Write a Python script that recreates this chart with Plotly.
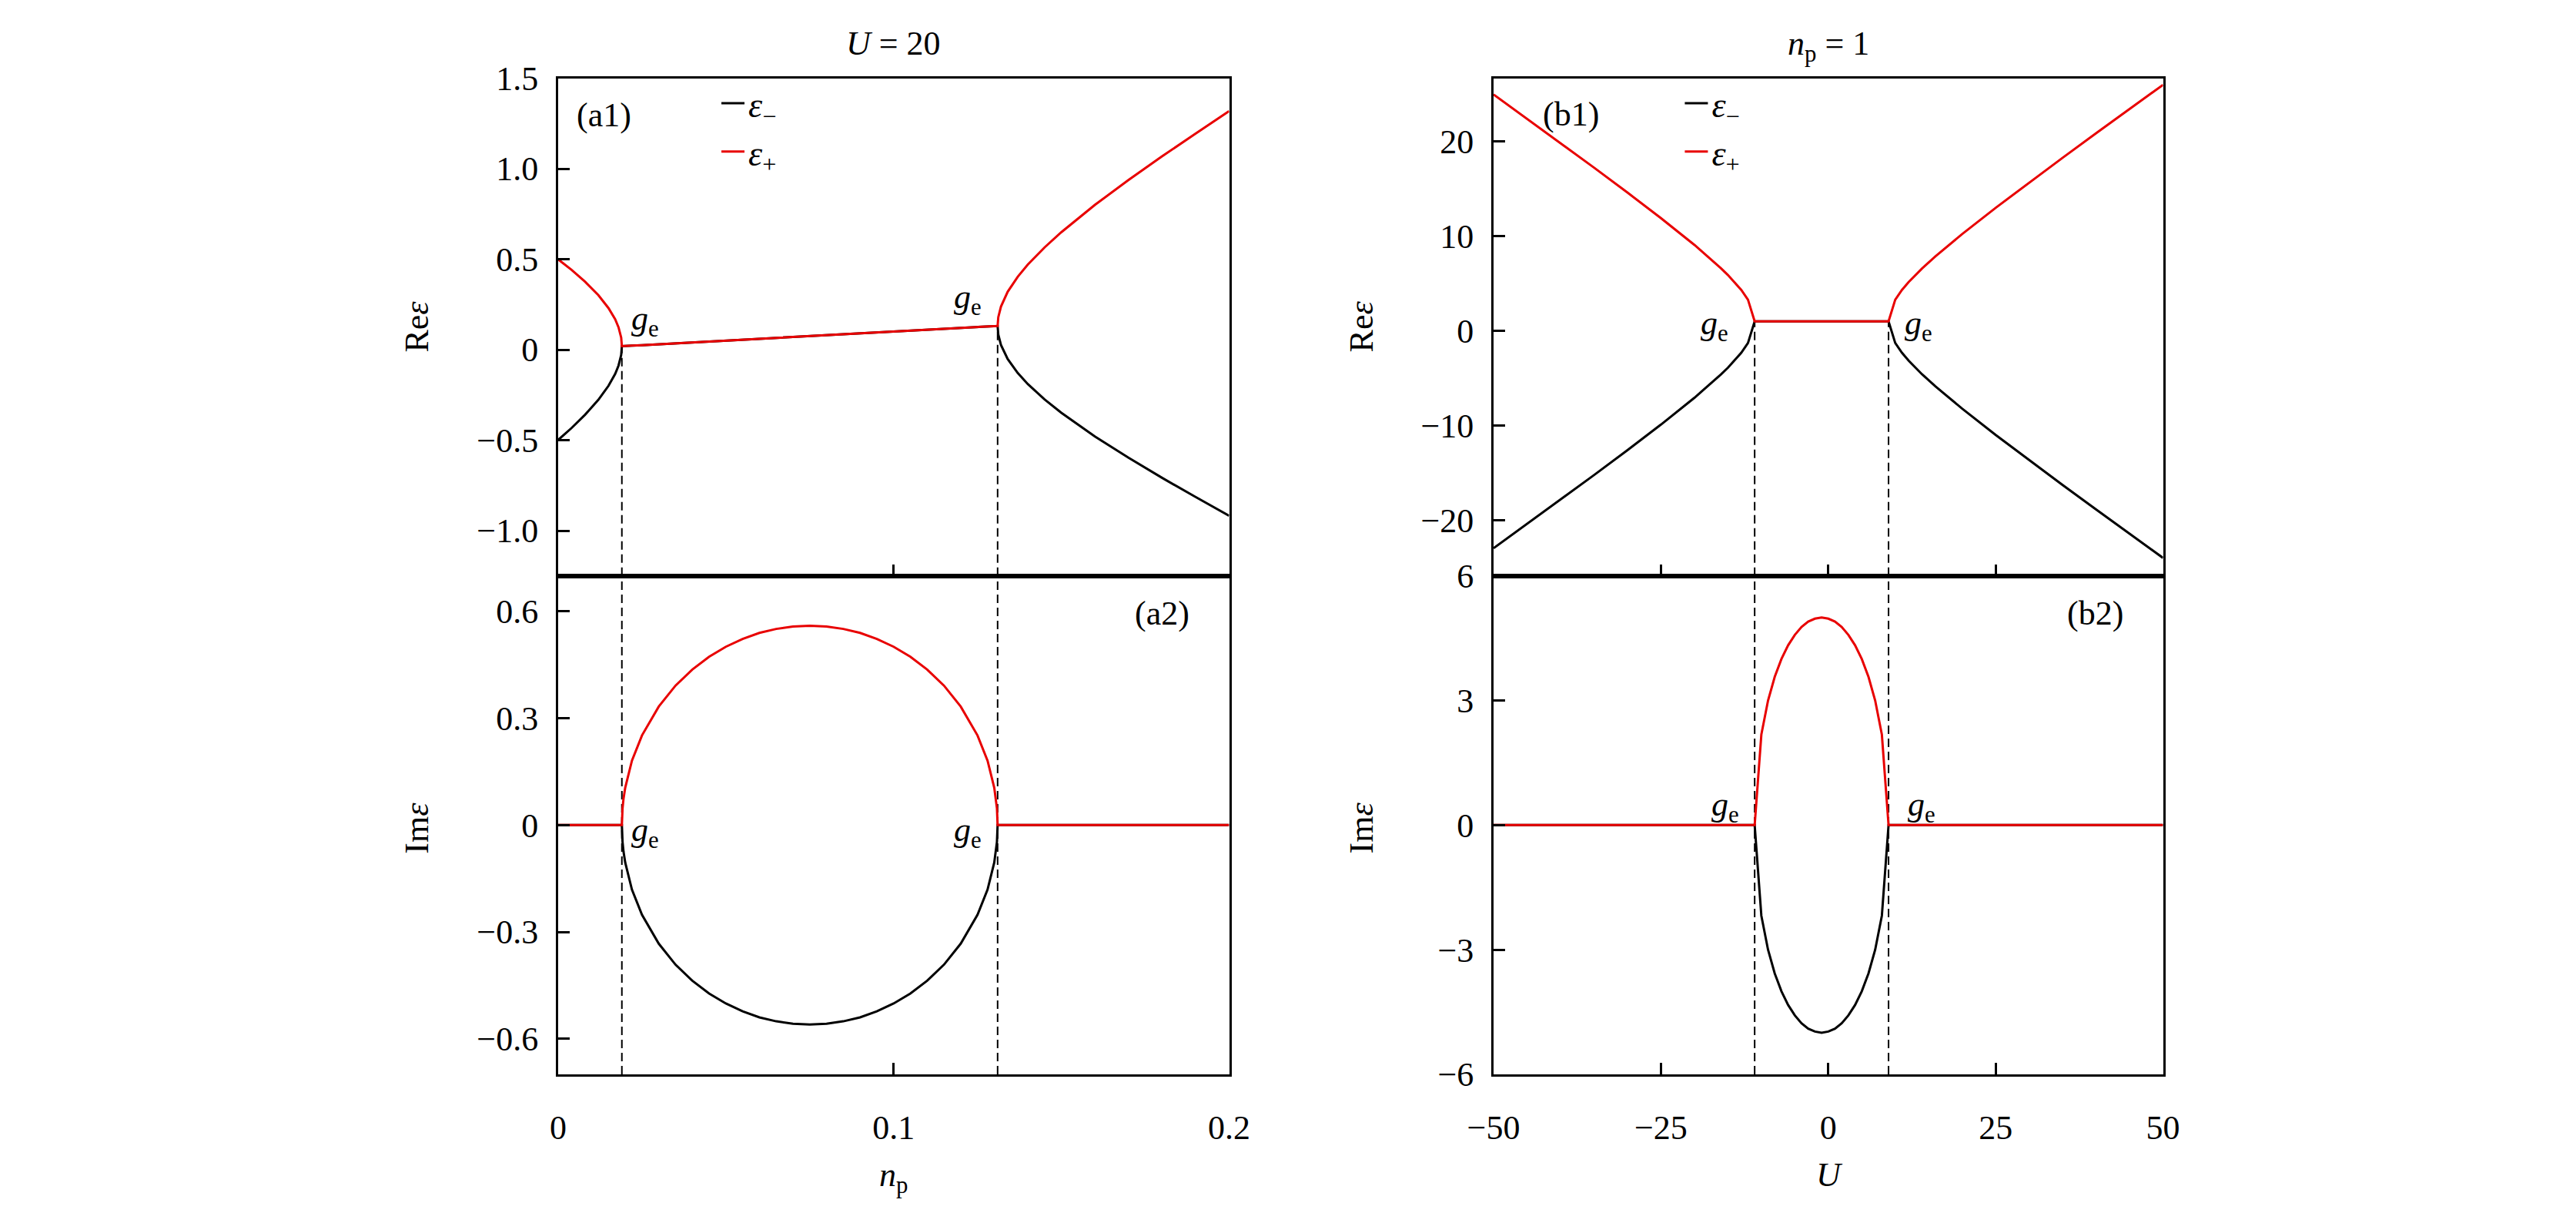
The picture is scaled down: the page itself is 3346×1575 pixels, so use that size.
import plotly.graph_objects as go

# ---------------- data: left column (U = 20), x = n_p ----------------
np_vals = [0, 0.004, 0.008, 0.012, 0.015, 0.017, 0.018, 0.0185, 0.0188, 0.019,
           0.0192, 0.0195, 0.02, 0.022, 0.025, 0.03, 0.035, 0.04, 0.045, 0.05,
           0.055, 0.06, 0.065, 0.07, 0.075, 0.08, 0.085, 0.09, 0.095, 0.1,
           0.105, 0.11, 0.115, 0.12, 0.125, 0.128, 0.13, 0.1305, 0.1308, 0.131,
           0.1312, 0.1315, 0.132, 0.134, 0.137, 0.14, 0.145, 0.15, 0.16, 0.17,
           0.18, 0.19, 0.2]
re_plus_a = [0.499, 0.441, 0.376, 0.301, 0.230, 0.168, 0.124, 0.094, 0.066, 0.019,
             0.019, 0.020, 0.020, 0.022, 0.025, 0.030, 0.035, 0.040, 0.045, 0.050,
             0.055, 0.060, 0.065, 0.070, 0.075, 0.080, 0.085, 0.090, 0.095, 0.100,
             0.105, 0.110, 0.115, 0.120, 0.125, 0.128, 0.130, 0.131, 0.131, 0.131,
             0.179, 0.207, 0.238, 0.320, 0.403, 0.470, 0.565, 0.649, 0.800, 0.937,
             1.068, 1.194, 1.318]
re_minus_a = [-0.499, -0.433, -0.360, -0.277, -0.200, -0.134, -0.088, -0.057, -0.029, 0.019,
              0.019, 0.020, 0.020, 0.022, 0.025, 0.030, 0.035, 0.040, 0.045, 0.050,
              0.055, 0.060, 0.065, 0.070, 0.075, 0.080, 0.085, 0.090, 0.095, 0.100,
              0.105, 0.110, 0.115, 0.120, 0.125, 0.128, 0.130, 0.131, 0.131, 0.131,
              0.084, 0.057, 0.026, -0.052, -0.129, -0.190, -0.275, -0.349, -0.480, -0.597,
              -0.708, -0.814, -0.918]
im_plus_a = [0, 0, 0, 0, 0, 0, 0, 0, 0, 0,
             0.047, 0.075, 0.105, 0.181, 0.252, 0.333, 0.392, 0.437, 0.473, 0.501,
             0.523, 0.540, 0.551, 0.558, 0.560, 0.558, 0.551, 0.540, 0.523, 0.501,
             0.473, 0.437, 0.392, 0.333, 0.252, 0.181, 0.105, 0.075, 0.047, 0,
             0, 0, 0, 0, 0, 0, 0, 0, 0, 0,
             0, 0, 0]
im_minus_a = [0, 0, 0, 0, 0, 0, 0, 0, 0, 0,
              -0.047, -0.075, -0.105, -0.181, -0.252, -0.333, -0.392, -0.437, -0.473, -0.501,
              -0.523, -0.540, -0.551, -0.558, -0.560, -0.558, -0.551, -0.540, -0.523, -0.501,
              -0.473, -0.437, -0.392, -0.333, -0.252, -0.181, -0.105, -0.075, -0.047, 0,
              0, 0, 0, 0, 0, 0, 0, 0, 0, 0,
              0, 0, 0]
ep_np = [0.019, 0.131]          # exceptional points g_e
ep_re_a = [0.019, 0.131]

# ---------------- data: right column (n_p = 1), x = U ----------------
u_vals = [-50, -45, -40, -35, -30, -25, -20, -18, -16, -15, -14, -13, -12,
          -11, -10, -9, -8, -7, -6, -5, -4, -3, -2, -1, 0, 1, 2, 3, 4, 5, 6, 7, 8, 9,
          10, 11, 12, 13, 14, 16, 18, 20, 25, 30, 35, 40, 45, 50]
re_plus_b = [24.98, 22.42, 19.85, 17.25, 14.61, 11.91, 9.08, 7.87, 6.59, 5.90, 5.15, 4.32, 3.29,
             1, 1, 1, 1, 1, 1, 1, 1, 1, 1, 1, 1, 1, 1, 1, 1, 1, 1, 1, 1, 1,
             3.29, 4.32, 5.15, 5.90, 6.59, 7.87, 9.08, 10.23, 13.00, 15.67, 18.29, 20.88, 23.45, 26.00]
re_minus_b = [-22.98, -20.42, -17.85, -15.25, -12.61, -9.91, -7.08, -5.87, -4.59, -3.90, -3.15, -2.32, -1.29,
              1, 1, 1, 1, 1, 1, 1, 1, 1, 1, 1, 1, 1, 1, 1, 1, 1, 1, 1, 1, 1,
              -1.29, -2.32, -3.15, -3.90, -4.59, -5.87, -7.08, -8.23, -11.00, -13.67, -16.29, -18.88, -21.45, -24.00]
im_plus_b = [0, 0, 0, 0, 0, 0, 0, 0, 0, 0, 0, 0, 0,
             0, 2.18, 3.00, 3.57, 4.00, 4.33, 4.58, 4.77, 4.90, 4.97, 5.00, 4.97, 4.90, 4.77, 4.58, 4.33,
             4.00, 3.57, 3.00, 2.18, 0,
             0, 0, 0, 0, 0, 0, 0, 0, 0, 0, 0, 0, 0, 0]
im_minus_b = [0, 0, 0, 0, 0, 0, 0, 0, 0, 0, 0, 0, 0,
              0, -2.18, -3.00, -3.57, -4.00, -4.33, -4.58, -4.77, -4.90, -4.97, -5.00, -4.97, -4.90, -4.77,
              -4.58, -4.33, -4.00, -3.57, -3.00, -2.18, 0,
              0, 0, 0, 0, 0, 0, 0, 0, 0, 0, 0, 0, 0, 0]
ep_u = [-11, 9]
ep_re_b = [1, 1]

# ---------------- ticks ----------------
xt_a = [0, 0.1, 0.2]
xt_a_text = ["0", "0.1", "0.2"]
yt_a1 = [1.5, 1.0, 0.5, 0, -0.5, -1.0]
yt_a1_text = ["1.5", "1.0", "0.5", "0", "\u22120.5", "\u22121.0"]
yt_a2 = [0.6, 0.3, 0, -0.3, -0.6]
yt_a2_text = ["0.6", "0.3", "0", "\u22120.3", "\u22120.6"]
xt_b = [-50, -25, 0, 25, 50]
xt_b_text = ["\u221250", "\u221225", "0", "25", "50"]
yt_b1 = [20, 10, 0, -10, -20]
yt_b1_text = ["20", "10", "0", "\u221210", "\u221220"]
yt_b2 = [6, 3, 0, -3, -6]
yt_b2_text = ["6", "3", "0", "\u22123", "\u22126"]

# ---------------- styling / layout ----------------
W, H = 3346, 1575
FONT = "Liberation Serif"
FS = 44
BLACK = "#000000"
RED = "#e80000"
LW = 3

def px_x(p):
    return p / W

def px_y(p):
    return 1 - p / H

L_DOM = [px_x(704), px_x(1592)]
R_DOM = [px_x(1942), px_x(2828)]
TOP_DOM = [px_y(747), px_y(80)]
BOT_DOM = [px_y(1415), px_y(747)]

RANGE_A1 = [-1.25, 1.5]
RANGE_A2 = [-0.7, 0.7]
RANGE_B1 = [-25.9, 26.7]
RANGE_B2 = [-6, 6]

fig = go.Figure()

def add_pair(x, ym, yp, xa, ya, legend, show):
    fig.add_trace(go.Scatter(x=x, y=ym, mode="lines", name="<i>\u03b5</i><sub>\u2212</sub>",
                             line=dict(color=BLACK, width=LW), xaxis=xa, yaxis=ya,
                             legend=legend, showlegend=show))
    fig.add_trace(go.Scatter(x=x, y=yp, mode="lines", name="<i>\u03b5</i><sub>+</sub>",
                             line=dict(color=RED, width=LW), xaxis=xa, yaxis=ya,
                             legend=legend, showlegend=show))

add_pair(np_vals, re_minus_a, re_plus_a, "x", "y", "legend", True)
add_pair(np_vals, im_minus_a, im_plus_a, "x2", "y2", "legend", False)
add_pair(u_vals, re_minus_b, re_plus_b, "x3", "y3", "legend2", True)
add_pair(u_vals, im_minus_b, im_plus_b, "x4", "y4", "legend2", False)

tickfont = dict(family=FONT, size=FS, color=BLACK)
titlefont = dict(family=FONT, size=FS, color=BLACK)

def xaxis(dom, anchor, rng, tv, tt, labels, title=None):
    d = dict(domain=dom, anchor=anchor, range=rng, tickvals=tv, ticktext=tt,
             showticklabels=labels, ticks="inside", ticklen=15, tickwidth=2.5, tickcolor=BLACK,
             showline=True, linewidth=LW, linecolor=BLACK, mirror=True,
             showgrid=False, zeroline=False, tickfont=tickfont, ticklabelstandoff=28)
    if title:
        d["title"] = dict(text=title, font=titlefont, standoff=22)
    return d

def yaxis(dom, anchor, rng, tv, tt):
    return dict(domain=dom, anchor=anchor, range=rng, tickvals=tv, ticktext=tt,
                ticks="inside", ticklen=15, tickwidth=2.5, tickcolor=BLACK,
                showline=True, linewidth=LW, linecolor=BLACK, mirror=True,
                showgrid=False, zeroline=False, tickfont=tickfont, ticklabelstandoff=14)

RE_T = "Re<i>\u03b5</i>"
IM_T = "Im<i>\u03b5</i>"

shapes = []
dash = dict(color=BLACK, width=2, dash="11px,6px")
for xv, yv in zip(ep_np, ep_re_a):
    shapes.append(dict(type="line", xref="x", yref="y", x0=xv, x1=xv, y0=RANGE_A1[0], y1=yv,
                       line=dash, layer="below"))
    shapes.append(dict(type="line", xref="x2", yref="y2 domain", x0=xv, x1=xv, y0=0, y1=1,
                       line=dash, layer="below"))
for xv, yv in zip(ep_u, ep_re_b):
    shapes.append(dict(type="line", xref="x3", yref="y3", x0=xv, x1=xv, y0=RANGE_B1[0], y1=yv,
                       line=dash, layer="below"))
    shapes.append(dict(type="line", xref="x4", yref="y4 domain", x0=xv, x1=xv, y0=0, y1=1,
                       line=dash, layer="below"))

GE = "<i>g</i><sub>e</sub>"
ann = []
def add_ann(text, x, y, xref, yref, size=FS, yanchor="middle", angle=0):
    ann.append(dict(text=text, x=x, y=y, xref=xref, yref=yref, showarrow=False,
                    xanchor="center", yanchor=yanchor, textangle=angle,
                    font=dict(family=FONT, size=size, color=BLACK)))

# g_e labels
add_ann(GE, 0.026, 0.16, "x", "y")
add_ann(GE, 0.122, 0.28, "x", "y")
add_ann(GE, 0.026, -0.02, "x2", "y2")
add_ann(GE, 0.122, -0.02, "x2", "y2")
add_ann(GE, -17.0, 0.6, "x3", "y3")
add_ann(GE, 13.5, 0.6, "x3", "y3")
add_ann(GE, -15.4, 0.45, "x4", "y4")
add_ann(GE, 13.9, 0.45, "x4", "y4")
# panel labels
add_ann("(a1)", px_x(765), px_y(130), "paper", "paper")
add_ann("(b1)", px_x(2044), px_y(128), "paper", "paper")
add_ann("(a2)", px_x(1503), px_y(797), "paper", "paper")
add_ann("(b2)", px_x(2738), px_y(797), "paper", "paper")
# column titles
add_ann("<i>U</i> = 20", (L_DOM[0] + L_DOM[1]) / 2, px_y(6), "paper", "paper", yanchor="top")
add_ann("<i>n</i><sub>p</sub> = 1", (R_DOM[0] + R_DOM[1]) / 2, px_y(6), "paper", "paper", yanchor="top")
# y-axis titles
add_ann(RE_T, px_x(517), px_y(413), "paper", "paper", angle=-90)
add_ann(IM_T, px_x(517), px_y(1085), "paper", "paper", angle=-90)
add_ann(RE_T, px_x(1767), px_y(413), "paper", "paper", angle=-90)
add_ann(IM_T, px_x(1767), px_y(1085), "paper", "paper", angle=-90)

legend_common = dict(xanchor="left", yanchor="top", bgcolor="rgba(0,0,0,0)",
                     font=dict(family=FONT, size=46, color=BLACK), itemwidth=30,
                     tracegroupgap=0, borderwidth=0)

fig.update_layout(
    width=W, height=H, autosize=False,
    margin=dict(l=0, r=0, t=0, b=0, pad=0),
    paper_bgcolor="white", plot_bgcolor="white",
    font=dict(family=FONT, size=FS, color=BLACK),
    xaxis=xaxis(L_DOM, "y", [0, 0.2], xt_a, xt_a_text, False),
    yaxis=yaxis(TOP_DOM, "x", RANGE_A1, yt_a1, yt_a1_text),
    xaxis2=xaxis(L_DOM, "y2", [0, 0.2], xt_a, xt_a_text, True, "<i>n</i><sub>p</sub>"),
    yaxis2=yaxis(BOT_DOM, "x2", RANGE_A2, yt_a2, yt_a2_text),
    xaxis3=xaxis(R_DOM, "y3", [-50, 50], xt_b, xt_b_text, False),
    yaxis3=yaxis(TOP_DOM, "x3", RANGE_B1, yt_b1, yt_b1_text),
    xaxis4=xaxis(R_DOM, "y4", [-50, 50], xt_b, xt_b_text, True, "<i>U</i>"),
    yaxis4=yaxis(BOT_DOM, "x4", RANGE_B2, yt_b2, yt_b2_text),
    legend=dict(x=px_x(915), y=px_y(76), **legend_common),
    legend2=dict(x=px_x(2190), y=px_y(76), **legend_common),
    shapes=shapes,
    annotations=ann,
)

fig.write_html("out.html", config={"displayModeBar": False},
               post_script="document.body.style.margin='0';document.body.style.overflow='hidden';")
